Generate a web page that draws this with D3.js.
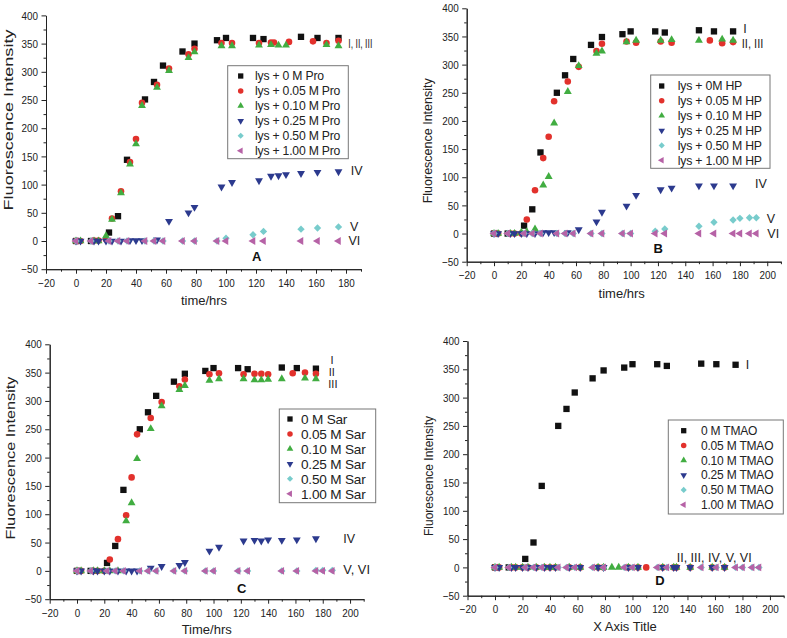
<!DOCTYPE html>
<html><head><meta charset="utf-8">
<script src="https://cdn.jsdelivr.net/npm/d3@7"></script>
<style>
body{margin:0;background:#fff}
svg{display:block}
text{font-family:"Liberation Sans",Arial,Helvetica,sans-serif}
</style>
</head><body>
<svg id="c" width="787" height="638"></svg>
<script>
// ---------------- DATA ----------------
const yTicks = [-50,0,50,100,150,200,250,300,350,400];
const yMinor = [-25,25,75,125,175,225,275,325,375];
const xTicksA = [-20,0,20,40,60,80,100,120,140,160,180];
const xMinorA = [-10,10,30,50,70,90,110,130,150,170,190];
const xTicksBCD = [-20,0,20,40,60,80,100,120,140,160,180,200];
const xMinorBCD = [-10,10,30,50,70,90,110,130,150,170,190,210];

const legendA = ["lys + 0 M Pro","lys + 0.05 M Pro","lys + 0.10 M Pro","lys + 0.25 M Pro","lys + 0.50 M Pro","lys + 1.00 M Pro"];
const legendB = ["lys + 0M HP","lys + 0.05 M HP","lys + 0.10 M HP","lys + 0.25 M HP","lys + 0.50 M HP","lys + 1.00 M HP"];
const legendC = ["0 M Sar","0.05 M Sar","0.10 M Sar","0.25 M Sar","0.50 M Sar","1.00 M Sar"];
const legendD = ["0 M TMAO","0.05 M TMAO","0.10 M TMAO","0.25 M TMAO","0.50 M TMAO","1.00 M TMAO"];

// Panel A (Pro)
const A_0M   = [[0,0],[10,0],[22,15],[28,44],[34,144],[46,251],[52,282],[58,311],[71,336],[79,350],[94,356],[100,360],[118,360],[125,358],[150,362],[161,360],[175,360]];
const A_005M = [[0,0],[3,0],[12,1],[15,1],[20,3],[24,40],[30,88],[36,140],[40,181],[44,245],[54,277],[62,306],[75,331],[79,341],[97,351],[104,351],[122,351],[130,352],[132,352],[142,353],[158,354],[167,351],[175,355]];
const A_010M = [[0,0],[3,0],[12,0],[15,0],[20,9],[24,38],[30,85],[36,136],[40,172],[44,240],[54,272],[62,302],[75,325],[79,335],[97,346],[104,346],[122,347],[130,348],[135,347],[140,347],[167,348],[175,346]];
const A_025M = [[0,0],[3,0],[12,0],[15,0],[20,0],[24,0],[30,0],[36,1],[40,1],[44,1],[54,2],[62,35],[75,50],[79,60],[97,96],[104,104],[122,107],[130,115],[135,116],[140,118],[150,120],[161,122],[175,123]];
const A_050M = [[0,0],[10,0],[22,0],[28,0],[34,0],[46,0],[52,0],[58,0],[71,0],[79,0],[94,0],[100,5],[118,11],[125,17],[150,21],[161,23],[175,25]];
const A_100M = [[0,0],[10,0],[22,0],[28,0],[34,0],[46,0],[52,0],[58,0],[71,0],[79,0],[94,0],[100,0],[118,0],[125,0],[150,0],[161,0],[175,0]];

// Panel B (HP)
const B_0M   = [[0,0],[10,0],[22,14],[28,43],[34,144],[46,250],[52,281],[58,310],[71,335],[79,349],[94,354],[100,359],[118,359],[125,357],[150,361],[161,359],[175,359]];
const B_005M = [[0,0],[3,0],[12,0],[15,0],[20,0],[24,25],[30,77],[36,134],[40,172],[44,235],[54,270],[62,296],[75,324],[79,337],[97,341],[104,339],[122,341],[130,339],[158,343],[167,338],[175,340]];
const B_010M = [[0,0],[3,0],[12,0],[15,0],[20,2],[24,3],[30,8],[36,86],[40,101],[44,196],[54,252],[62,298],[75,320],[79,324],[97,340],[104,343],[122,343],[130,344],[150,343],[167,345],[175,343]];
const B_025M = [[0,0],[3,0],[12,0],[15,0],[20,0],[24,0],[30,0],[36,2],[40,2],[44,2],[54,2],[62,7],[75,21],[79,38],[97,49],[104,68],[122,78],[130,81],[150,85],[161,85],[175,85]];
const B_050M = [[0,0],[10,0],[22,0],[28,0],[34,0],[46,0],[52,0],[58,0],[71,0],[79,0],[94,0],[100,0],[118,4],[125,8],[150,13],[161,20],[175,24],[180,27],[187,28],[192,28]];
const B_100M = [[0,0],[10,0],[22,0],[28,0],[34,0],[46,0],[52,0],[58,0],[71,0],[79,0],[94,0],[100,0],[118,0],[125,0],[150,0],[161,0],[175,0],[180,0],[187,0],[192,0]];

// Panel C (Sar)
const C_0M   = [[0,0],[10,0],[22,14],[28,44],[34,143],[46,250],[52,280],[58,309],[71,334],[79,348],[94,353],[100,358],[118,358],[125,356],[150,359],[161,358],[175,357]];
const C_005M = [[0,0],[3,0],[12,0],[15,0],[20,0],[24,20],[30,56],[36,98],[40,165],[44,241],[54,270],[62,298],[75,326],[79,338],[97,347],[104,349],[122,347],[130,348],[135,348],[140,347],[158,349],[167,350],[175,348]];
const C_010M = [[0,0],[3,0],[12,0],[15,0],[20,0],[24,0],[30,0],[36,88],[40,120],[44,198],[54,251],[62,291],[75,320],[79,327],[97,336],[104,339],[122,339],[130,337],[135,337],[140,338],[150,339],[167,340],[175,339]];
const C_025M = [[0,0],[3,0],[12,0],[15,0],[20,0],[24,0],[30,0],[36,0],[40,0],[44,0],[54,5],[62,8],[75,10],[79,15],[97,35],[104,42],[122,53],[130,54],[135,53],[140,55],[150,54],[161,55],[175,57]];
const C_050M = [[0,0],[10,0],[22,0],[28,0],[34,0],[46,0],[52,0],[58,0],[71,0],[79,0],[94,0],[100,0],[118,0],[125,0],[150,0],[161,0],[175,1],[180,1],[187,1]];
const C_100M = [[0,0],[10,0],[22,0],[28,0],[34,0],[46,0],[52,0],[58,0],[71,0],[79,0],[94,0],[100,0],[118,0],[125,0],[150,0],[161,0],[175,0],[180,0],[187,0]];

// Panel D (TMAO)
const D_0M   = [[0,0],[10,0],[22,15],[28,44],[34,144],[46,250],[52,280],[58,309],[71,334],[79,348],[94,353],[100,359],[118,359],[125,356],[150,360],[161,359],[175,358]];
const D_005M = [[0,0],[3,0],[12,0],[15,0],[20,0],[24,0],[30,0],[36,0],[40,0],[44,0],[54,0],[62,0],[75,0],[79,0],[97,0],[104,0],[110,0],[122,0],[130,0],[132,0],[142,0],[158,0],[167,0]];
const D_010M = [[0,0],[3,0],[12,0],[15,0],[20,0],[24,0],[30,0],[36,0],[40,0],[44,0],[54,0],[62,0],[75,0],[79,0],[85,0],[90,0],[97,0],[104,0],[122,0],[130,0],[132,0],[142,0],[158,0],[167,0]];
const D_025M = [[0,0],[3,0],[12,0],[15,0],[20,0],[24,0],[30,0],[36,0],[40,0],[44,0],[54,0],[62,0],[75,0],[79,0],[97,0],[104,0],[122,0],[130,0],[132,0],[142,0],[158,0],[167,0]];
const D_050M = [[0,0],[10,0],[22,0],[28,0],[34,0],[46,0],[52,0],[58,0],[71,0],[79,0],[94,0],[100,0],[118,0],[125,0],[150,0],[161,0],[175,0],[180,0],[187,0],[192,0]];
const D_100M = [[0,0],[10,0],[22,0],[28,0],[34,0],[46,0],[52,0],[58,0],[71,0],[79,0],[94,0],[100,0],[118,0],[125,0],[150,0],[161,0],[175,0],[180,0],[187,0],[192,0]];

// ---------------- STYLE / LAYOUT ----------------
const colors = ["#111111","#e2312c","#41ad41","#2c3a8e","#78cccc","#b662a6"];
const symbols = [
  {t:d3.symbolSquare,   s:40, r:0},
  {t:d3.symbolCircle,   s:34, r:0},
  {t:d3.symbolTriangle, s:27, r:0},
  {t:d3.symbolTriangle, s:27, r:180},
  {t:d3.symbolSquare,   s:27, r:45},
  {t:d3.symbolTriangle, s:27, r:-90}
];

const panels = [
  {series:[A_0M,A_005M,A_010M,A_025M,A_050M,A_100M], legend:legendA,
   xd:[-20,190], xr:[46,361], yr:[269.2,15.4], xt:xTicksA, xm:xMinorA,
   box:[227.7,65.7,120.6,93], row0:76, rowStep:14.95, mx:240.7, tx:255, lfs:12.2,
   ytitle:{x:12.5,y:120,len:181}, xtitle:{text:"time/hrs",x:204,y:304.5},
   letter:{t:"A",x:256.7,y:261},
   notes:[["I, II, III",348.3,47.5,24,12.5],["IV",350.7,175,null,12.5],["V",350,231,null,12.5],["VI",348.5,245,null,12.5]]},
  {series:[B_0M,B_005M,B_010M,B_025M,B_050M,B_100M], legend:legendB,
   xd:[-20,210], xr:[466.7,780.9], yr:[261.7,8.3], xt:xTicksBCD, xm:xMinorBCD,
   box:[650.7,75,119.3,93.3], row0:86, rowStep:14.85, mx:661.7, tx:677.7, lfs:12.3,
   ytitle:{x:432,y:140.8,len:125}, xtitle:{text:"time/hrs",x:621.7,y:297.5},
   letter:{t:"B",x:658.3,y:253},
   notes:[["I",743.3,32.5,null,12.5],["II, III",741.7,47.5,21.7,12.5],["IV",755,188,null,12.5],["V",766.7,222.5,null,12.5],["VI",767.3,237.5,null,12.5]]},
  {series:[C_0M,C_005M,C_010M,C_025M,C_050M,C_100M], legend:legendC,
   xd:[-20,210], xr:[49.7,363.7], yr:[599.2,344.3], xt:xTicksBCD, xm:xMinorBCD,
   box:[279.3,409,96.4,93.7], row0:419, rowStep:14.95, mx:290, tx:301, lfs:13.6,
   ytitle:{x:15,y:458,len:163}, xtitle:{text:"Time/hrs",x:206.7,y:634},
   letter:{t:"C",x:241.7,y:593},
   notes:[["I",330.5,363.5,null,11],["II",328.8,376,null,11],["III",328.3,388,null,11],["IV",343.3,542.5,null,12.5],["V, VI",343.3,573.5,26.7,12.5]]},
  {series:[D_0M,D_005M,D_010M,D_025M,D_050M,D_100M], legend:legendD,
   xd:[-20,210], xr:[467.5,783.7], yr:[595.7,341], xt:xTicksBCD, xm:xMinorBCD,
   box:[668.3,420,115,94], row0:430.7, rowStep:14.8, mx:683.7, tx:701, lfs:12,
   ytitle:{x:433,y:476,len:120}, xtitle:{text:"X Axis Title",x:625,y:631},
   letter:{t:"D",x:660,y:585},
   notes:[["I",745.7,368.5,null,12.5],["II, III, IV, V, VI",676.7,561.5,75,12.5]]}
];

const svg = d3.select('#c');
const SX = 0.86;

function styleAxis(g){
  g.select('.domain').attr('stroke','#222').attr('stroke-width',1);
  g.selectAll('.tick line').attr('stroke','#222').attr('stroke-width',1);
  g.selectAll('.tick text').attr('fill','#222').attr('font-size',11.5)
    .attr('font-family','"Liberation Sans",Arial,sans-serif');
}

panels.forEach(p => {
  const x = d3.scaleLinear().domain(p.xd).range(p.xr);
  const y = d3.scaleLinear().domain([-50,400]).range(p.yr);
  const g = svg.append('g');

  // minor ticks
  g.append('g').attr('transform',`translate(0,${y(-50)})`)
    .call(d3.axisBottom(x).tickValues(p.xm).tickSize(2.5).tickSizeOuter(0).tickFormat(''))
    .call(styleAxis);
  g.append('g').attr('transform',`translate(${x(-20)},0)`)
    .call(d3.axisLeft(y).tickValues(yMinor).tickSize(2.5).tickSizeOuter(0).tickFormat(''))
    .call(styleAxis);
  // major axes
  const xa = g.append('g').attr('transform',`translate(0,${y(-50)})`)
    .call(d3.axisBottom(x).tickValues(p.xt).tickSize(4.5).tickSizeOuter(0).tickPadding(5))
    .call(styleAxis);
  xa.selectAll('.tick text').attr('transform',`scale(${SX},1)`);
  const ya = g.append('g').attr('transform',`translate(${x(-20)},0)`)
    .call(d3.axisLeft(y).tickValues(yTicks).tickSize(4.5).tickSizeOuter(0))
    .call(styleAxis);
  ya.selectAll('.tick text').attr('x', -8/SX).attr('transform',`scale(${SX},1)`);

  // data marks
  p.series.forEach((s,i) => {
    const sym = d3.symbol().type(symbols[i].t).size(symbols[i].s);
    g.append('g').selectAll('path').data(s).join('path')
      .attr('transform', d => `translate(${x(d[0])},${y(d[1])}) rotate(${symbols[i].r})`)
      .attr('d', sym)
      .attr('fill', colors[i]);
  });

  // legend
  const [bx,by,bw,bh] = p.box;
  g.append('rect').attr('x',bx).attr('y',by).attr('width',bw).attr('height',bh)
    .attr('fill','#fff').attr('stroke','#777').attr('stroke-width',1);
  p.legend.forEach((lab,i) => {
    const ry = p.row0 + i*p.rowStep;
    const sym = d3.symbol().type(symbols[i].t).size(symbols[i].s*0.7);
    g.append('path').attr('transform',`translate(${p.mx},${ry}) rotate(${symbols[i].r})`)
      .attr('d',sym).attr('fill',colors[i]);
    g.append('text').attr('x',p.tx).attr('y',ry).attr('dy','0.36em')
      .attr('font-size',p.lfs).attr('fill','#222').attr('letter-spacing',-0.2).text(lab);
  });

  // axis titles
  g.append('text').attr('transform',`translate(${p.ytitle.x},${p.ytitle.y}) rotate(-90)`)
    .attr('text-anchor','middle').attr('font-size',13).attr('fill','#222')
    .attr('textLength',p.ytitle.len).attr('lengthAdjust','spacingAndGlyphs')
    .text('Fluorescence Intensity');
  g.append('text').attr('x',p.xtitle.x).attr('y',p.xtitle.y)
    .attr('text-anchor','middle').attr('font-size',13).attr('fill','#222')
    .text(p.xtitle.text);

  // panel letter
  g.append('text').attr('x',p.letter.x).attr('y',p.letter.y)
    .attr('text-anchor','middle').attr('font-size',13).attr('font-weight','bold').attr('fill','#111')
    .text(p.letter.t);

  // curve annotations
  p.notes.forEach(n => {
    const t = g.append('text').attr('x',n[1]).attr('y',n[2])
      .attr('font-size',n[4]).attr('fill','#222').text(n[0]);
    if (n[3]) t.attr('textLength',n[3]).attr('lengthAdjust','spacingAndGlyphs');
  });
});
</script>
</body></html>
